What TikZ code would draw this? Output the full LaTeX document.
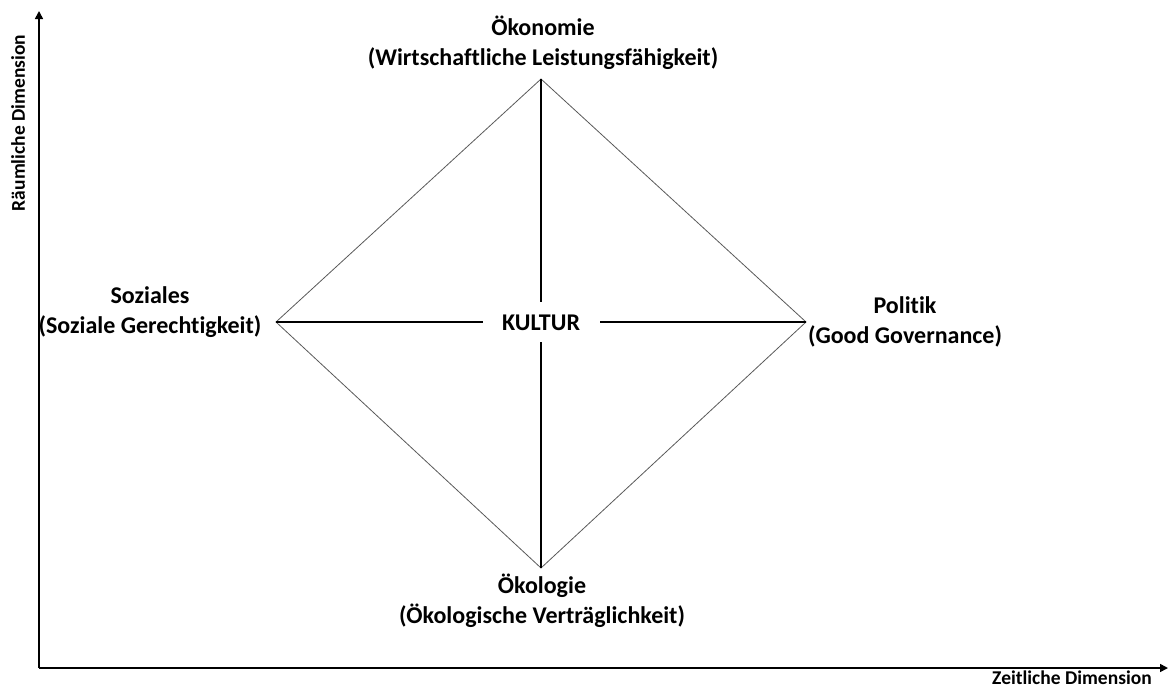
\documentclass[tikz,border=0pt]{standalone}
\usepackage{fontspec}
\setmainfont{Carlito}[Ligatures={NoCommon}]
\usetikzlibrary{arrows.meta}
\begin{document}
\begin{tikzpicture}[x=1pt,y=-1pt,
  lbl/.style={font=\fontsize{24}{30}\selectfont\bfseries, align=center, inner sep=0pt},
  axlbl/.style={font=\fontsize{19.5}{24}\selectfont\bfseries, inner sep=0pt},
  axis/.style={line width=1.6pt, -{Triangle[length=8pt,width=8pt]}},
  edge/.style={line width=0.8pt, draw=black!65},
  cross/.style={line width=1.6pt}]
\useasboundingbox (0,0) rectangle (1169,689);
% axes
\coordinate (o) at (39,668);
\coordinate (ytip) at (39,11);
\coordinate (xtip) at (1168,668);
\draw[axis] (o) -- (ytip);
\draw[axis] (o) -- (xtip);
\node[axlbl, rotate=90] (ylab) at (18,123) {Räumliche Dimension};
\node[axlbl] (xlab) at (1072,678) {Zeitliche Dimension};
% diamond vertices
\coordinate (T) at (541,79);
\coordinate (L) at (276,322);
\coordinate (R) at (806,322);
\coordinate (B) at (541,568);
\draw[edge] (T) -- (R) -- (B) -- (L) -- cycle;
% centre
\node[lbl] (kultur) at (541,323) {KULTUR};
\coordinate (ct) at (541,302);
\coordinate (cb) at (541,342);
\coordinate (cl) at (483,322);
\coordinate (cr) at (600,322);
\draw[cross] (T) -- (ct);
\draw[cross] (cb) -- (B);
\draw[cross] (L) -- (cl);
\draw[cross] (cr) -- (R);
% labels
\node[lbl] (oek) at (543,43) {Ökonomie\\(Wirtschaftliche Leistungsfähigkeit)};
\node[lbl] (soz) at (150,312) {Soziales\\(Soziale Gerechtigkeit)};
\node[lbl] (pol) at (905,322) {Politik\\(Good Governance)};
\node[lbl] (oko) at (542,601) {Ökologie\\(Ökologische Verträglichkeit)};
\end{tikzpicture}
\end{document}
